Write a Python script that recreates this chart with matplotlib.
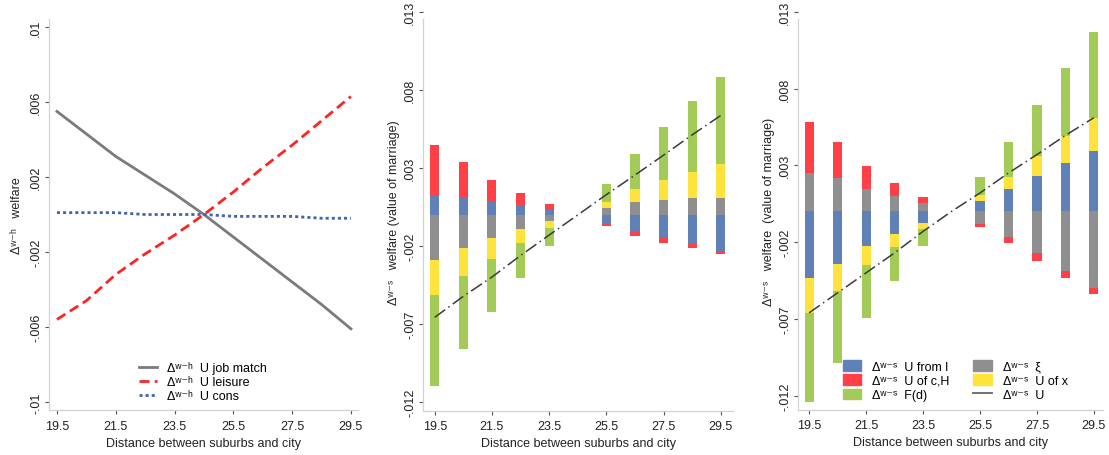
#%% welfare decomposition by suburb-city distance
from matplotlib import pyplot as plt
from matplotlib.patches import Patch
from matplotlib.lines import Line2D
import numpy as np

plt.rcParams['font.family'] = ['Liberation Sans', 'DejaVu Sans']

#%% data
dist = [19.5, 20.5, 21.5, 22.5, 23.5, 24.5, 25.5, 26.5, 27.5, 28.5, 29.5]
bar_dist = [19.5, 20.5, 21.5, 22.5, 23.5, 25.5, 26.5, 27.5, 28.5, 29.5]  # no bar at 24.5

# panel 1: wife-husband differences
job_match = [0.0055, 0.0043, 0.0031, 0.0021, 0.0011, 0.0000, -0.0012, -0.0024, -0.0036, -0.0048, -0.0061]
leisure = [-0.0056, -0.0046, -0.0032, -0.0021, -0.0011, 0.0000, 0.0012, 0.0025, 0.0037, 0.0050, 0.0063]
cons = [0.0001, 0.0001, 0.0001, 0.0000, 0.0000, 0.0000, -0.0001, -0.0001, -0.0001, -0.0002, -0.0002]

# panel 2: value of marriage components (in thousandths)
mid_u_l = [1.24, 1.07, 0.83, 0.60, 0.32, -0.58, -1.03, -1.43, -1.88, -2.33]
mid_xi = [-2.88, -2.14, -1.50, -0.92, -0.41, 0.43, 0.81, 0.98, 1.07, 1.11]
mid_u_ch = [3.25, 2.31, 1.39, 0.81, 0.36, -0.11, -0.30, -0.36, -0.26, -0.19]
mid_u_x = [-2.24, -1.77, -1.30, -0.85, -0.43, 0.43, 0.85, 1.26, 1.71, 2.14]
mid_fd = [-5.85, -4.68, -3.40, -2.24, -1.13, 1.13, 2.22, 3.38, 4.49, 5.58]
mid_total = [-6.56, -5.21, -3.98, -2.60, -1.29, 0.00, 1.30, 2.55, 3.83, 5.13, 6.37]

# panel 3: value of marriage components (in thousandths)
r_u_l = [-4.34, -3.43, -2.28, -1.50, -0.74, 0.69, 1.45, 2.30, 3.12, 3.95]
r_xi = [2.52, 2.19, 1.48, 1.02, 0.52, -0.82, -1.65, -2.73, -3.86, -5.01]
r_u_ch = [3.30, 2.36, 1.45, 0.85, 0.41, -0.22, -0.41, -0.50, -0.48, -0.39]
r_u_x = [-2.26, -1.78, -1.24, -0.82, -0.43, 0.37, 0.82, 1.32, 1.76, 2.15]
r_fd = [-5.81, -4.64, -3.41, -2.23, -1.06, 1.19, 2.26, 3.34, 4.43, 5.55]
r_total = [-6.60, -5.30, -4.00, -2.70, -1.30, 0.00, 1.20, 2.50, 3.70, 4.95, 6.10]

xticks = [19.5, 21.5, 23.5, 25.5, 27.5, 29.5]
yticks_left = [0.01, 0.006, 0.002, -0.002, -0.006, -0.01]
ylabels_left = ['.01', '.006', '.002', '-.002', '-.006', '-.01']
yticks_bar = [0.013, 0.008, 0.003, -0.002, -0.007, -0.012]
ylabels_bar = ['.013', '.008', '.003', '-.002', '-.007', '-.012']

# small superscript letters for the difference operators
d_wh = 'Δ\u02b7\u207b\u02b0 '
d_ws = 'Δ\u02b7\u207b\u02e2 '

# colours
c_blue = '#5f81b8'
c_gray = '#8f8f8f'
c_red = '#ff4046'
c_yellow = '#fde33b'
c_green = '#a3cb57'
c_total = '#3a3a3a'
total_dash = (8.5, 2.6, 1.0, 2.6)

xlabel = 'Distance between suburbs and city'


def style_axis(ax, yticks, ylabels, ylim, xlim, spine_top):
    ax.set_xlim(xlim)
    ax.set_ylim(ylim)
    ax.spines['top'].set_visible(False)
    ax.spines['right'].set_visible(False)
    for s in ['left', 'bottom']:
        ax.spines[s].set_color('#d2d2d2')
        ax.spines[s].set_linewidth(0.9)
    ax.spines['left'].set_bounds(ylim[0], spine_top)
    ax.set_xticks(xticks)
    ax.set_xticklabels([str(x) for x in xticks])
    ax.set_yticks(yticks)
    ax.set_yticklabels(ylabels)
    ax.tick_params(axis='both', length=3, width=0.8, color='#555555',
                   labelsize=9, labelcolor='#222222')
    ax.tick_params(axis='y', labelrotation=90, pad=2)
    ax.tick_params(axis='x', pad=4)
    plt.setp(ax.get_yticklabels(), va='center')
    ax.set_xlabel(xlabel, fontsize=9, color='#222222', labelpad=3.5)


def stacked(ax, parts, colors):
    pos = np.zeros(len(bar_dist))
    neg = np.zeros(len(bar_dist))
    for vals, c in zip(parts, colors):
        vals = np.array(vals) / 1000
        base = np.where(vals >= 0, pos, neg)
        ax.bar(bar_dist, vals, width=0.32, bottom=base, color=c, linewidth=0)
        pos = pos + np.clip(vals, 0, None)
        neg = neg + np.clip(vals, None, 0)


fig = plt.figure(figsize=(11.09, 4.56), dpi=100)

#%% panel 1
ax1 = fig.add_axes([0.0442, 0.0987, 0.2786, 0.8574])
ax1.plot(dist, job_match, color='#7b7b7b', lw=2.0, label=d_wh + ' U job match')
ax1.plot(dist, leisure, color='#ff2424', lw=2.0, dashes=(3.6, 1.9), label=d_wh + ' U leisure')
ax1.plot(dist, cons, color='#4064ad', lw=2.0, dashes=(1.1, 1.1), label=d_wh + ' U cons')
style_axis(ax1, yticks_left, ylabels_left, (-0.01043, 0.01043), (19.23, 29.74), 0.01043)
ax1.set_ylabel(d_wh + '  welfare', fontsize=9, color='#222222', labelpad=5)
ax1.legend(loc='upper left', bbox_to_anchor=(139 / 1109, 1 - 362 / 456), bbox_transform=fig.transFigure,
           frameon=False, fontsize=9, handlelength=1.45, handletextpad=0.8, labelspacing=0.17,
           borderpad=0, borderaxespad=0)

#%% panel 2
ax2 = fig.add_axes([0.3814, 0.0971, 0.2796, 0.8744])
stacked(ax2, [mid_u_l, mid_xi, mid_u_ch, mid_u_x, mid_fd], [c_blue, c_gray, c_red, c_yellow, c_green])
ax2.plot(dist, np.array(mid_total) / 1000, color=c_total, lw=1.1, dashes=total_dash)
style_axis(ax2, yticks_bar, ylabels_bar, (-0.01254, 0.013), (19.09, 29.93), 0.01255)
ax2.set_ylabel(d_ws + '  welfare (value of marriage)', fontsize=9, color='#222222', labelpad=3)

#%% panel 3
ax3 = fig.add_axes([0.7196, 0.0993, 0.2750, 0.8728])
stacked(ax3, [r_u_l, r_xi, r_u_ch, r_u_x, r_fd], [c_blue, c_gray, c_red, c_yellow, c_green])
ax3.plot(dist, np.array(r_total) / 1000, color=c_total, lw=1.1, dashes=total_dash)
style_axis(ax3, yticks_bar, ylabels_bar, (-0.01291, 0.013), (19.11, 29.82), 0.01252)
ax3.set_ylabel(d_ws + '  welfare  (value of marriage)', fontsize=9, color='#222222', labelpad=3)

handles = [Patch(color=c_blue), Patch(color=c_red), Patch(color=c_green),
           Patch(color=c_gray), Patch(color=c_yellow),
           Line2D([], [], color='#666666', lw=1.3)]
labels = [d_ws + ' U from l', d_ws + ' U of c,H', d_ws + ' F(d)',
          d_ws + ' ξ', d_ws + ' U of x', d_ws + ' U']
ax3.legend(handles, labels, ncol=2, loc='upper left', bbox_to_anchor=(843 / 1109, 1 - 361 / 456),
           bbox_transform=fig.transFigure, frameon=False, fontsize=9, handlelength=1.45,
           handleheight=0.95, handletextpad=0.9, columnspacing=1.9, labelspacing=0.13,
           borderpad=0, borderaxespad=0)

plt.savefig('out.png', dpi=100)
